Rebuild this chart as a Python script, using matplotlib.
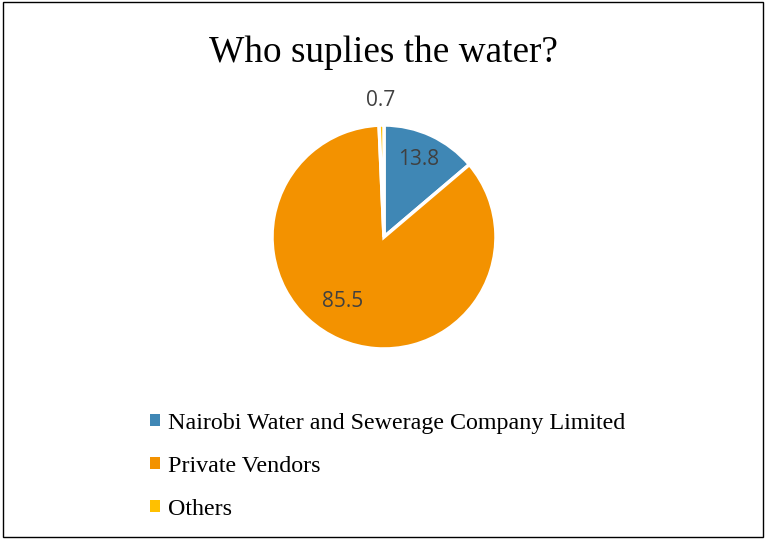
import numpy as np
import matplotlib.pyplot as plt
from matplotlib.patches import Rectangle

# data
categories = ["Nairobi Water and Sewerage Company Limited", "Private Vendors", "Others"]
values = [13.8, 85.5, 0.7]
colors = ["#3F87B5", "#F39200", "#FFC000"]
label_dist = [0.76, 0.68, 1.22]
label_shift = [1, -9, 0]  # degrees, data label placement tweak

fig = plt.figure(figsize=(7.66, 5.39), dpi=100)
fig.patch.set_facecolor("white")
fig.patches.append(Rectangle((0.004, 0.004), 0.992, 0.992, transform=fig.transFigure,
                             fill=False, edgecolor="black", linewidth=1.0))

fig.text(0.5, 0.903, "Who suplies the water?", ha="center", va="center",
         fontsize=26.8, family="Liberation Serif", color="black")

ax = fig.add_axes([0.3551, 0.3525, 0.2924, 0.4156])
wedges, _ = ax.pie(values, colors=colors, startangle=90, counterclock=False,
                   radius=1.0, wedgeprops=dict(edgecolor="white", linewidth=2.5))
ax.set_xlim(-1, 1)
ax.set_ylim(-1, 1)
ax.set_aspect("equal")
ax.axis("off")

for w, v, d, s in zip(wedges, values, label_dist, label_shift):
    ang = np.deg2rad((w.theta1 + w.theta2) / 2 + s)
    ax.text(d * np.cos(ang), d * np.sin(ang), str(v), ha="center", va="center",
            fontsize=15, family="Open Sans", color="#404040")

handles = [Rectangle((0, 0), 1, 1, facecolor=c, edgecolor="none") for c in colors]
leg = fig.legend(handles, categories, loc="upper left", bbox_to_anchor=(0.183, 0.252),
                 frameon=False, prop=dict(family="Liberation Serif", size=17.3),
                 handlelength=0.42, handleheight=0.42, handletextpad=0.35,
                 labelspacing=0.91, borderaxespad=0)

fig.savefig("out.png", dpi=100)
